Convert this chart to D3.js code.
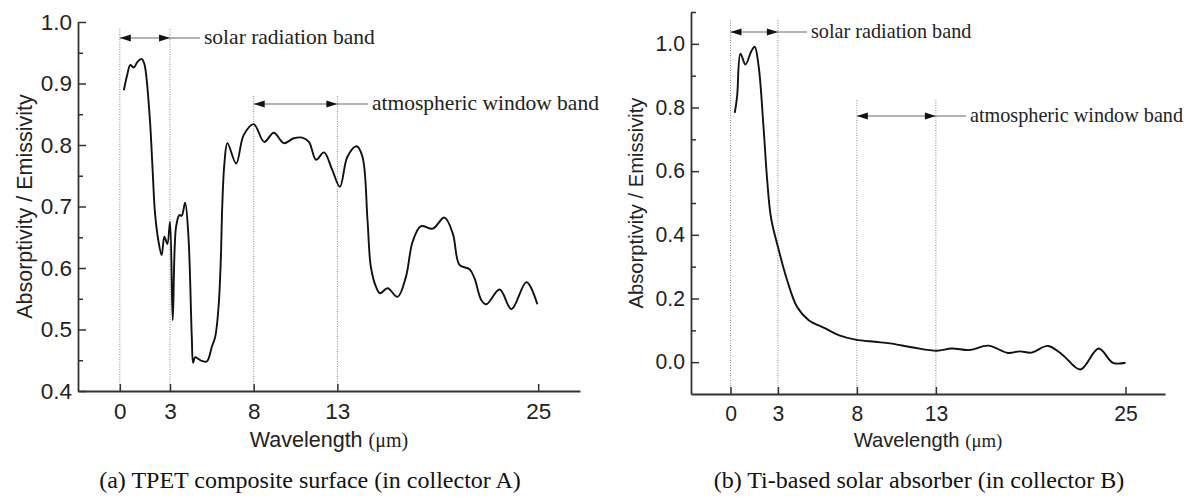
<!DOCTYPE html>
<html>
<head>
<meta charset="utf-8">
<script src="https://cdn.jsdelivr.net/npm/d3@7"></script>
<style>
  html, body { margin: 0; padding: 0; background: #fff; }
  svg { display: block; }
</style>
</head>
<body>
<svg id="chart" width="1192" height="497"></svg>
<script>
// Spectral absorptivity / emissivity of two collector surfaces

// (a) TPET composite surface
const wavelengthA = [0.24, 0.45, 0.62, 0.84, 1.05, 1.3, 1.45, 1.56, 1.8, 1.96, 2.1, 2.3, 2.5, 2.66, 2.84, 3.0, 3.16, 3.36, 3.56, 3.7, 3.9, 4.1, 4.3, 4.38, 4.5, 4.7, 4.9, 5.2, 5.5, 5.7, 5.9, 6.03, 6.12, 6.25, 6.43, 6.95, 7.4, 8.0, 8.63, 9.2, 9.8, 10.4, 10.9, 11.3, 11.73, 12.2, 12.7, 13.15, 13.6, 14.15, 14.5, 14.8, 15.0, 15.3, 15.55, 16.0, 16.6, 17.1, 17.5, 18.0, 18.7, 19.4, 19.9, 20.3, 20.9, 21.2, 21.6, 21.9, 22.7, 23.4, 24.3, 24.95];
const emissivityA = [0.889, 0.915, 0.930, 0.926, 0.935, 0.940, 0.933, 0.917, 0.84, 0.759, 0.69, 0.645, 0.621, 0.651, 0.639, 0.675, 0.515, 0.667, 0.686, 0.685, 0.706, 0.651, 0.488, 0.446, 0.455, 0.452, 0.449, 0.448, 0.472, 0.488, 0.537, 0.61, 0.70, 0.77, 0.803, 0.770, 0.816, 0.834, 0.805, 0.82, 0.803, 0.811, 0.812, 0.805, 0.776, 0.788, 0.759, 0.732, 0.781, 0.798, 0.781, 0.678, 0.602, 0.57, 0.559, 0.567, 0.553, 0.586, 0.643, 0.668, 0.664, 0.682, 0.656, 0.605, 0.598, 0.583, 0.548, 0.541, 0.565, 0.533, 0.577, 0.541];

// (b) Ti-based solar absorber
const wavelengthB = [0.27, 0.42, 0.63, 0.95, 1.3, 1.53, 1.78, 2.1, 2.32, 2.57, 3.05, 3.58, 4.21, 4.95, 6.0, 6.84, 7.9, 9.15, 10.1, 11.57, 13.05, 14.0, 15.15, 16.3, 17.57, 18.3, 19.05, 20.1, 21.04, 22.14, 23.3, 24.2, 25.0];
const emissivityB = [0.783, 0.836, 0.969, 0.935, 0.975, 0.991, 0.930, 0.731, 0.573, 0.452, 0.353, 0.258, 0.174, 0.132, 0.106, 0.085, 0.071, 0.064, 0.059, 0.046, 0.036, 0.043, 0.038, 0.052, 0.029, 0.034, 0.030, 0.051, 0.022, -0.023, 0.043, -0.002, -0.002];

// Axis ticks and band labels
const xTicks = [0, 3, 8, 13, 25];
const yTicksA = [0.4, 0.5, 0.6, 0.7, 0.8, 0.9, 1.0];
const yMinorA = [0.45, 0.55, 0.65, 0.75, 0.85, 0.95];
const yTicksB = [0.0, 0.2, 0.4, 0.6, 0.8, 1.0];
const yMinorB = [0.1, 0.3, 0.5, 0.7, 0.9, 1.1];
const solarBand = [0, 3];
const windowBand = [8, 13];
const solarLabel = "solar radiation band";
const windowLabel = "atmospheric window band";
const xLabel = "Wavelength ";
const xUnit = "(\u03bcm)";
const yLabel = "Absorptivity / Emissivity";
const captionA = "(a) TPET composite surface (in collector A)";
const captionB = "(b) Ti-based solar absorber (in collector B)";

const SANS = "'Liberation Sans', Arial, sans-serif";
const SERIF = "'Liberation Serif', 'Times New Roman', serif";
const svg = d3.select("#chart");
svg.append("rect").attr("width", 1192).attr("height", 497).attr("fill", "#fff");

function panel(cfg) {
  const g = svg.append("g");
  const x = d3.scaleLinear().domain([-2.5, 27.5]).range([cfg.left, cfg.right]);
  const y = d3.scaleLinear().domain(cfg.yDomain).range([cfg.bottom, cfg.top]);
  const fs = cfg.fontScale;

  // dotted guide lines at band edges
  [[solarBand, cfg.solarTop], [windowBand, cfg.windowTop]].forEach(([band, top]) => {
    band.forEach(v => {
      g.append("line")
        .attr("x1", x(v)).attr("x2", x(v))
        .attr("y1", top).attr("y2", cfg.bottom)
        .attr("stroke", "#888").attr("stroke-width", 1)
        .attr("stroke-dasharray", "1,1.5");
    });
  });

  // band arrows with labels
  function bandArrow(band, yy, lineEnd, label) {
    const x0 = x(band[0]), x1 = x(band[1]);
    g.append("line").attr("x1", x0).attr("x2", lineEnd)
      .attr("y1", yy).attr("y2", yy)
      .attr("stroke", "#666").attr("stroke-width", 1);
    g.append("path")
      .attr("d", `M${x0},${yy}L${x0 + 11},${yy - 3.5}L${x0 + 11},${yy + 3.5}Z`)
      .attr("fill", "#111");
    g.append("path")
      .attr("d", `M${x1},${yy}L${x1 - 11},${yy - 3.5}L${x1 - 11},${yy + 3.5}Z`)
      .attr("fill", "#111");
    g.append("text").attr("x", lineEnd + 4).attr("y", yy + 6)
      .attr("font-family", SERIF).attr("font-size", 21.5 * fs)
      .attr("fill", "#222").text(label);
  }
  bandArrow(solarBand, cfg.solarY, cfg.solarLineEnd, solarLabel);
  bandArrow(windowBand, cfg.windowY, cfg.windowLineEnd, windowLabel);

  // spectrum curve
  const pts = cfg.xs.map((v, i) => [v, cfg.ys[i]]);
  g.append("path").datum(pts)
    .attr("d", d3.line().x(d => x(d[0])).y(d => y(d[1])).curve(d3.curveCatmullRom.alpha(0.5)))
    .attr("fill", "none").attr("stroke", "#111").attr("stroke-width", 1.9)
    .attr("stroke-linejoin", "round");

  // x axis
  const gx = g.append("g").attr("transform", `translate(0,${cfg.bottom})`)
    .call(d3.axisBottom(x).tickValues(xTicks).tickFormat(d3.format("d"))
      .tickSizeInner(-7).tickSizeOuter(0).tickPadding(12));
  // y axis
  const gy = g.append("g").attr("transform", `translate(${cfg.left},0)`)
    .call(d3.axisLeft(y).tickValues(cfg.yTicks).tickFormat(d3.format(".1f"))
      .tickSizeInner(-8).tickSizeOuter(0).tickPadding(6));
  const gym = g.append("g").attr("transform", `translate(${cfg.left},0)`)
    .call(d3.axisLeft(y).tickValues(cfg.yMinor).tickFormat("")
      .tickSizeInner(-5).tickSizeOuter(0));
  gym.select(".domain").remove();

  [gx, gy, gym].forEach(a => {
    a.selectAll(".domain").attr("stroke", "#333").attr("stroke-width", 1.8);
    a.selectAll(".tick line").attr("stroke", "#333").attr("stroke-width", 1.5);
    a.selectAll("text").attr("font-family", SANS).attr("font-size", 22.5 * fs).attr("fill", "#222");
  });
  gx.selectAll("text").attr("dy", "0.71em");

  // axis titles
  const xl = g.append("text").attr("x", (cfg.left + cfg.right) / 2).attr("y", 447)
    .attr("text-anchor", "middle").attr("font-family", SANS).attr("font-size", 21.5 * fs).attr("fill", "#222");
  xl.append("tspan").text(xLabel);
  xl.append("tspan").attr("font-family", SERIF).attr("font-size", 20 * fs).text(xUnit);

  g.append("text")
    .attr("transform", `translate(${cfg.yLabelX},${(cfg.top + cfg.bottom) / 2}) rotate(-90)`)
    .attr("text-anchor", "middle").attr("font-family", SANS).attr("font-size", 21.5 * fs).attr("fill", "#222")
    .text(yLabel);

  // panel caption
  g.append("text").attr("x", cfg.captionX).attr("y", 488)
    .attr("text-anchor", "middle").attr("font-family", SERIF).attr("font-size", 24).attr("fill", "#111")
    .text(cfg.caption);
}

panel({
  xs: wavelengthA, ys: emissivityA,
  left: 78, right: 580, top: 22, bottom: 391, yDomain: [0.4, 1.0],
  yTicks: yTicksA, yMinor: yMinorA, fontScale: 1,
  solarTop: 29, windowTop: 96,
  solarY: 38, solarLineEnd: 200,
  windowY: 104, windowLineEnd: 368,
  yLabelX: 32,
  captionX: 310, caption: captionA
});

panel({
  xs: wavelengthB, ys: emissivityB,
  left: 691, right: 1165, top: 12, bottom: 394, yDomain: [-0.1, 1.1],
  yTicks: yTicksB, yMinor: yMinorB, fontScale: 0.94,
  solarTop: 20, windowTop: 100,
  solarY: 32, solarLineEnd: 807,
  windowY: 116, windowLineEnd: 966,
  yLabelX: 643,
  captionX: 919, caption: captionB
});
</script>
</body>
</html>
